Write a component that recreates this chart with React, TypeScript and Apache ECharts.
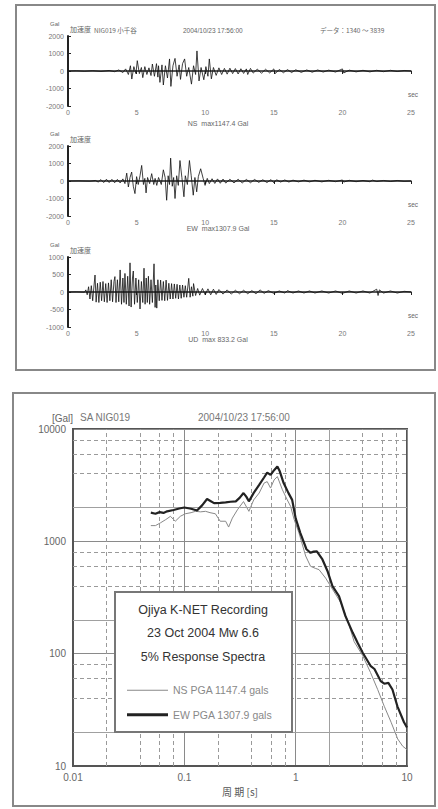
import React, { useEffect, useRef } from "react";
import * as echarts from "echarts";

// ---------- accelerograms (time [s], acceleration [Gal]) ----------
const NS_WAVE: number[][] = [
  [0, 0], [0.6, 15], [1.2, -15], [1.8, 20], [2.4, -25], [3.0, 30], [3.4, -40], [3.7, 60], [4.0, -90], [4.2, 120],
  [4.4, -200], [4.55, 300], [4.65, -460], [4.8, 250], [4.95, -150], [5.05, 590], [5.2, -150], [5.35, 200], [5.45, -380],
  [5.6, 250], [5.75, -200], [5.9, 180], [6.05, -260], [6.15, 400], [6.3, -300], [6.45, 420], [6.55, -350], [6.6, 300],
  [6.7, -650], [6.85, 350], [6.95, -800], [7.1, 300], [7.25, -400], [7.4, 690], [7.5, -880], [7.65, 300], [7.8, 720],
  [7.95, -300], [8.1, 350], [8.2, -480], [8.35, 420], [8.5, 690], [8.65, -300], [8.8, 200], [9.0, -750], [9.15, 300],
  [9.3, -200], [9.4, 1147], [9.55, -570], [9.7, 200], [9.9, -500], [10.05, 250], [10.2, -300], [10.3, 690], [10.45, -450],
  [10.6, 200], [10.8, -250], [11.0, 180], [11.2, -200], [11.4, 150], [11.6, -180], [11.8, 160], [12.0, -150], [12.2, 140],
  [12.4, -170], [12.6, 130], [12.8, -140], [13.0, 120], [13.1, -200], [13.3, 150], [13.5, -120], [13.8, 110], [14.1, -130],
  [14.4, 100], [14.7, -110], [15.0, 120], [15.1, -150], [15.4, 90], [15.7, -100], [16.0, 80], [16.3, -90], [16.6, 70],
  [17.0, -80], [17.4, 60], [17.8, -70], [18.2, 60], [18.6, -60], [19.0, 50], [19.5, -60], [20.0, 120], [20.1, -110],
  [20.5, 50], [21.0, -50], [21.5, 40], [22.0, -50], [22.5, 40], [23.0, -40], [23.5, 40], [24.0, -30], [24.5, 30], [25, 0],
];

const EW_WAVE: number[][] = [
  [0, 0], [0.8, 10], [1.6, -10], [2.0, 30], [2.2, -60], [2.4, 80], [2.6, -90], [2.8, 100], [3.0, -90], [3.2, 95],
  [3.4, -100], [3.6, 90], [3.8, -110], [4.0, 120], [4.15, -150], [4.28, 450], [4.4, -340], [4.52, 200], [4.64, 510],
  [4.76, -300], [4.88, -720], [5.0, 250], [5.12, -200], [5.25, 300], [5.37, 890], [5.5, -200], [5.6, 150], [5.69, -680],
  [5.8, 200], [5.95, -150], [6.1, 420], [6.25, -200], [6.35, 150], [6.47, -250], [6.6, 200], [6.8, -200], [6.95, 640],
  [7.08, 200], [7.19, -1100], [7.3, 300], [7.4, -200], [7.48, 1308], [7.6, -300], [7.7, 200], [7.8, -1000], [7.92, 300],
  [8.04, -250], [8.16, 1170], [8.3, 200], [8.45, -900], [8.55, 300], [8.7, -200], [8.85, 1170], [8.98, 300], [9.13, -810],
  [9.25, 200], [9.38, -620], [9.5, 250], [9.67, 700], [9.85, 150], [9.99, -250], [10.15, 150], [10.3, -150], [10.5, 130],
  [10.7, -140], [10.9, 120], [11.1, -130], [11.3, 110], [11.5, -120], [11.8, 100], [12.1, -110], [12.4, 100], [12.7, -110],
  [13.0, 90], [13.3, -100], [13.6, 90], [13.9, -80], [14.2, 70], [14.5, -90], [14.8, 80], [15.0, -100], [15.2, 70],
  [15.5, -60], [15.8, 60], [16.1, -60], [16.4, 50], [16.8, -50], [17.2, 50], [17.6, -50], [18.0, 40], [18.5, -50],
  [19.0, 40], [19.5, -40], [20.0, 60], [20.1, -60], [20.5, 40], [21.0, -40], [21.5, 30], [22.0, -40], [22.2, 50],
  [22.5, -30], [23.0, 30], [23.5, -30], [24.0, 30], [24.5, -20], [25, 0],
];

const UD_WAVE: number[][] = [
  [0, 0], [0.6, 5], [1.2, -5], [1.3, 60], [1.4, -80], [1.5, 150], [1.6, -200], [1.7, 180], [1.8, -250], [1.9, 200],
  [1.97, 485], [2.05, -290], [2.15, 250], [2.25, -300], [2.35, 280], [2.45, -250], [2.55, 300], [2.65, -280], [2.75, 240],
  [2.85, -300], [2.95, 260], [3.05, -250], [3.15, 350], [3.25, -280], [3.35, 300], [3.42, 440], [3.5, -300], [3.6, 350],
  [3.7, -280], [3.8, 630], [3.9, -350], [4.0, 400], [4.08, -300], [4.15, 530], [4.25, -350], [4.35, 450], [4.45, -400],
  [4.52, 833], [4.6, -430], [4.7, 400], [4.76, 600], [4.85, -350], [4.95, 400], [5.05, -300], [5.15, 350], [5.25, -485],
  [5.35, 300], [5.45, -300], [5.54, 680], [5.62, -350], [5.7, 400], [5.78, -300], [5.86, 450], [5.95, -350], [6.05, 350],
  [6.15, -300], [6.27, 805], [6.35, -440], [6.4, 200], [6.47, -460], [6.55, 350], [6.65, -250], [6.75, 340], [6.85, -240],
  [6.95, 300], [7.05, -250], [7.15, 340], [7.25, -240], [7.35, 250], [7.45, -200], [7.55, 240], [7.65, -200], [7.75, 230],
  [7.85, -180], [7.95, 220], [8.05, -200], [8.15, 200], [8.25, -180], [8.35, 200], [8.45, -150], [8.55, 180], [8.65, -150],
  [8.8, 390], [8.9, -150], [9.0, 150], [9.1, -120], [9.15, 240], [9.3, -100], [9.45, 100], [9.6, -90], [9.8, 100],
  [10.0, -80], [10.2, 90], [10.4, -80], [10.6, 80], [10.8, -70], [11.0, 70], [11.3, -60], [11.6, 60], [11.9, -60],
  [12.2, 50], [12.5, -50], [12.8, 50], [13.1, -50], [13.4, 40], [13.7, -50], [14.0, 60], [14.3, -40], [14.6, 40],
  [15.0, -40], [15.4, 30], [15.8, -30], [16.0, 40], [16.4, -30], [16.8, 30], [17.2, -30], [17.6, 30], [18.0, -30],
  [18.5, 30], [19.0, -30], [19.5, 30], [20.0, -40], [20.5, 30], [21.0, -30], [21.5, 30], [22.0, -30], [22.5, 80],
  [22.6, -100], [22.7, 60], [23.0, -30], [23.5, 30], [24.0, -30], [24.5, 20], [25, 0],
];

const WAVES = [NS_WAVE, EW_WAVE, UD_WAVE];
const WAVE_LIMITS = [2000, 2000, 1000];
const WAVE_STEPS = [1000, 1000, 500];
const WAVE_CAPTIONS = ["NS  max1147.4 Gal", "EW  max1307.9 Gal", "UD  max 833.2 Gal"];
const TIME_MAX = 25;
const TIME_STEP = 5;

// ---------- response spectra (period [s], Sa [Gal]) ----------
const NS_T = [0.05, 0.055, 0.061, 0.068, 0.075, 0.083, 0.092, 0.102, 0.115, 0.126, 0.14, 0.155, 0.17, 0.19, 0.21, 0.235,
  0.25, 0.27, 0.3, 0.34, 0.38, 0.42, 0.47, 0.52, 0.555, 0.595, 0.64, 0.685, 0.76, 0.84, 0.9, 0.97, 1.07, 1.23, 1.36, 1.5,
  1.62, 1.86, 2.14, 2.54, 2.92, 3.35, 4.0, 4.7, 5.45, 6.25, 7.2, 8.25, 9.15, 10];
const NS_SA = [1380, 1380, 1460, 1560, 1670, 1510, 1670, 1760, 1800, 1850, 1830, 1850, 1800, 1760, 1510, 1510,
  1340, 1610, 1910, 2260, 1850, 2340, 2690, 3300, 3400, 2980, 3520, 3770, 2880, 2340, 2050, 1560, 1190, 740, 600, 575,
  560, 470, 375, 285, 200, 128, 96, 68, 48, 34, 24.5, 17.4, 15, 14];

const EW_T = [0.05, 0.055, 0.06, 0.065, 0.07, 0.08, 0.09, 0.1, 0.115, 0.13, 0.145, 0.16, 0.17, 0.185, 0.21, 0.235, 0.26,
  0.29, 0.315, 0.34, 0.36, 0.38, 0.42, 0.47, 0.52, 0.555, 0.595, 0.64, 0.685, 0.72, 0.78, 0.86, 0.93, 1.0, 1.1, 1.25,
  1.36, 1.45, 1.55, 1.74, 1.93, 2.14, 2.45, 2.8, 3.25, 3.6, 4.0, 4.7, 5.1, 5.8, 6.25, 6.8, 7.4, 8.2, 9.4, 10];
const EW_SA = [1800, 1760, 1820, 1790, 1850, 1900, 1960, 2000, 1950, 1880, 2100, 2380, 2300, 2190, 2200, 2220, 2250,
  2270, 2450, 2690, 2500, 2270, 2700, 3180, 3700, 4090, 3900, 4300, 4630, 4200, 3300, 2700, 2340, 1600, 1190, 850,
  790, 810, 815, 690, 545, 400, 325, 216, 154, 125, 102, 78, 73, 57, 54, 55, 48, 34, 24.5, 22];

const MINOR_PERIODS = [0.02, 0.04, 0.06, 0.08, 0.2, 0.4, 0.6, 0.8, 2, 4, 6, 8];
const MINOR_SA = [20, 40, 60, 80, 200, 400, 600, 800, 2000, 4000, 6000, 8000];

const NS_NAME = "NS PGA 1147.4 gals";
const EW_NAME = "EW PGA 1307.9 gals";
const BOX_LINES = ["Ojiya K-NET Recording", "23 Oct 2004 Mw 6.6", "5% Response Spectra"];

const FONT = "'Liberation Sans', Arial, 'Noto Sans CJK JP', sans-serif";
const CJK = "'Noto Sans CJK JP', 'Liberation Sans', sans-serif";

function txt(x: number, y: number, text: string, size: number, extra: any = {}) {
  const align = extra.align || "left";
  return {
    type: "text",
    x,
    y,
    z: extra.z ?? 1,
    style: {
      text,
      fontSize: size,
      fontFamily: extra.font || FONT,
      fill: extra.fill || "#666",
      textAlign: align,
      align,
      textVerticalAlign: "middle",
      verticalAlign: "middle",
    },
  };
}

export default function App() {
  const ref = useRef<HTMLDivElement>(null);

  useEffect(() => {
    if (!ref.current) return;
    const chart = echarts.init(ref.current, undefined, { renderer: "svg" });

    const waveTops = [36, 146, 257];
    const waveH = 70;
    const captionY = [123, 228, 339];

    const grids: any[] = waveTops.map((t) => ({ left: 68, right: 27, top: t, height: waveH }));
    grids.push({ left: 73, right: 31, top: 429, height: 337, show: true, borderColor: "#555", borderWidth: 2, backgroundColor: "transparent" });

    const xAxes: any[] = waveTops.map((_, i) => ({
      type: "value",
      gridIndex: i,
      min: 0,
      max: TIME_MAX,
      interval: TIME_STEP,
      axisLine: { onZero: true, lineStyle: { color: "#222", width: 1.5 } },
      axisTick: { show: true, length: 3, lineStyle: { color: "#222" } },
      axisLabel: { fontSize: 7, color: "#777", margin: 3, fontFamily: FONT },
      splitLine: { show: false },
    }));
    xAxes.push({
      type: "log",
      logBase: 10,
      gridIndex: 3,
      min: 0.01,
      max: 10,
      axisLine: { onZero: false, lineStyle: { color: "#555", width: 2 } },
      axisTick: { show: false },
      axisLabel: { fontSize: 10, color: "#666", margin: 6, fontFamily: FONT, formatter: (v: number) => String(Number(v.toPrecision(3))) },
      splitLine: { show: true, lineStyle: { color: "#8a8a8a", width: 1 } },
      name: "周 期 [s]",
      nameLocation: "middle",
      nameGap: 20,
      nameTextStyle: { fontSize: 10, color: "#555", fontFamily: CJK },
    });

    const yAxes: any[] = waveTops.map((_, i) => ({
      type: "value",
      gridIndex: i,
      min: -WAVE_LIMITS[i],
      max: WAVE_LIMITS[i],
      interval: WAVE_STEPS[i],
      axisLine: { show: true, onZero: false, lineStyle: { color: "#222", width: 2 } },
      axisTick: { show: true, inside: true, length: 3, lineStyle: { color: "#222" } },
      axisLabel: { fontSize: 7, color: "#777", margin: 4, fontFamily: FONT, formatter: (v: number) => String(v) },
      splitLine: { show: false },
    }));
    yAxes.push({
      type: "log",
      logBase: 10,
      gridIndex: 3,
      min: 10,
      max: 10000,
      axisLine: { show: true, onZero: false, lineStyle: { color: "#555", width: 2 } },
      axisTick: { show: false },
      axisLabel: { fontSize: 10, color: "#666", margin: 7, fontFamily: FONT, formatter: (v: number) => String(Math.round(v)) },
      splitLine: { show: true, lineStyle: { color: "#8a8a8a", width: 1 } },
      name: "[Gal]",
      nameLocation: "end",
      nameGap: 6,
      nameTextStyle: { fontSize: 10, color: "#666", align: "right", fontFamily: FONT },
    });

    const minorStyle = (v: number) =>
      String(v)[0] === "2"
        ? { color: "#a0a0a0", width: 1, type: "solid" }
        : { color: "#9a9a9a", width: 1, type: [4, 3] };

    const series: any[] = WAVES.map((w, i) => ({
      type: "line",
      xAxisIndex: i,
      yAxisIndex: i,
      data: w,
      symbol: "none",
      showSymbol: false,
      lineStyle: { color: "#111", width: 0.8 },
      z: 3,
    }));
    series.push({
      type: "line",
      name: NS_NAME,
      xAxisIndex: 3,
      yAxisIndex: 3,
      data: NS_T.map((t, i) => [t, NS_SA[i]]),
      symbol: "none",
      showSymbol: false,
      color: "#888",
      lineStyle: { color: "#888", width: 1 },
      z: 4,
      markLine: {
        silent: true,
        symbol: ["none", "none"],
        label: { show: false },
        animation: false,
        data: [
          ...MINOR_PERIODS.map((v) => ({ xAxis: v, lineStyle: minorStyle(v) })),
          ...MINOR_SA.map((v) => ({ yAxis: v, lineStyle: minorStyle(v) })),
        ],
      },
    });
    series.push({
      type: "line",
      name: EW_NAME,
      xAxisIndex: 3,
      yAxisIndex: 3,
      data: EW_T.map((t, i) => [t, EW_SA[i]]),
      symbol: "none",
      showSymbol: false,
      color: "#222",
      lineStyle: { color: "#222", width: 2.2 },
      z: 5,
    });

    const graphics: any[] = [
      { type: "rect", z: 0, shape: { x: 16, y: 5, width: 419, height: 365 }, style: { fill: "none", stroke: "#888", lineWidth: 2 } },
      { type: "rect", z: 0, shape: { x: 13, y: 393, width: 422, height: 413 }, style: { fill: "none", stroke: "#888", lineWidth: 2 } },
      { type: "rect", z: 10, shape: { x: 115, y: 592, width: 177, height: 140 }, style: { fill: "#fff", stroke: "#777", lineWidth: 2 } },
      txt(203, 610, BOX_LINES[0], 12.5, { align: "center", fill: "#333", z: 11 }),
      txt(203, 633, BOX_LINES[1], 12.5, { align: "center", fill: "#333", z: 11 }),
      txt(203, 657, BOX_LINES[2], 12.5, { align: "center", fill: "#333", z: 11 }),
      // top panel headers
      txt(94, 30, "NIG019 小千谷", 6.5, { font: CJK }),
      txt(183, 30, "2004/10/23 17:56:00", 6.5),
      txt(320, 30, "データ：1340 ～ 3839", 6.5, { font: CJK }),
      // bottom panel headers
      txt(80, 417, "SA NIG019", 10, { fill: "#777" }),
      txt(198, 417, "2004/10/23 17:56:00", 10, { fill: "#777" }),
    ];
    waveTops.forEach((t, i) => {
      graphics.push(txt(50, t - 12, "Gal", 6));
      graphics.push(txt(70, t - 7, "加速度", 7, { font: CJK }));
      graphics.push(txt(408, t + 58, "sec", 6.5));
      graphics.push(txt(218, captionY[i], WAVE_CAPTIONS[i], 7, { align: "center" }));
    });

    chart.setOption({
      animation: false,
      backgroundColor: "#fff",
      textStyle: { fontFamily: FONT },
      grid: grids,
      xAxis: xAxes,
      yAxis: yAxes,
      series,
      legend: {
        data: [
          { name: NS_NAME, icon: "path://M0,0H40V1H0Z" },
          { name: EW_NAME, icon: "path://M0,0H40V3H0Z" },
        ],
        orient: "vertical",
        left: 122,
        top: 680,
        itemWidth: 41,
        itemHeight: 14,
        itemGap: 14,
        selectedMode: false,
        z: 20,
        textStyle: { fontSize: 10.5, color: "#888", fontFamily: FONT },
      },
      graphic: { elements: graphics },
    });

    return () => chart.dispose();
  }, []);

  return (
    <div
      ref={ref}
      style={{ position: "absolute", left: 0, top: 0, width: 438, height: 809, background: "#fff" }}
    />
  );
}
